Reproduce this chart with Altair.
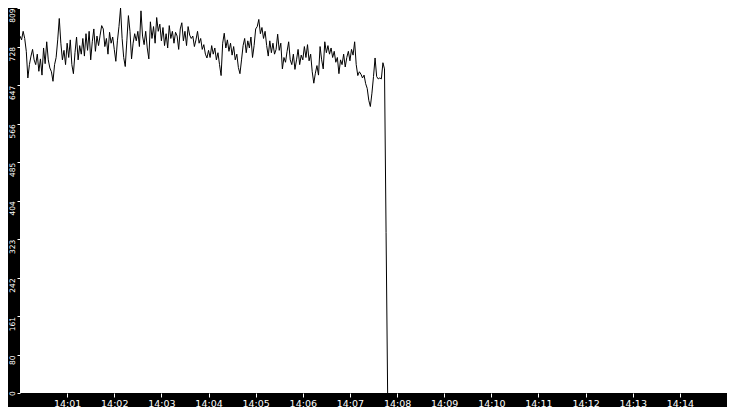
import altair as alt
import pandas as pd

# one reading every 2 seconds, starting at 14:00:00
SAMPLE_STEP = 2
readings = [
    750, 742, 760, 745, 718, 662, 690, 708, 722, 700,
    690, 712, 676, 702, 668, 725, 692, 738, 700, 683,
    675, 655, 690, 705, 742, 787, 735, 700, 720, 690,
    735, 705, 742, 690, 671, 715, 748, 700, 730, 712,
    745, 708, 755, 720, 760, 700, 738, 765, 718, 750,
    730, 752, 772, 765, 728, 745, 712, 758, 735, 748,
    722, 697, 740, 770, 809, 745, 705, 686, 740, 793,
    760, 702, 735, 755, 740, 760, 728, 803, 750, 732,
    760, 725, 702, 780, 745, 770, 735, 789, 760, 775,
    740, 768, 730, 755, 725, 772, 745, 760, 735, 758,
    750, 722, 765, 778, 740, 760, 730, 770, 752, 745,
    750, 728, 742, 760, 735, 745, 722, 732, 712, 704,
    720, 705, 730, 712, 725, 700, 715, 690, 667, 735,
    756, 725, 742, 718, 735, 710, 728, 700, 712, 684,
    671, 700, 730, 745, 715, 740, 725, 748, 705, 730,
    765, 770, 785, 755, 768, 745, 760, 730, 708, 740,
    715, 735, 712, 722, 754, 720, 735, 681, 705, 695,
    718, 738, 700, 690, 712, 680, 700, 722, 690, 710,
    700, 728, 705, 732, 698, 712, 675, 651, 672, 688,
    668, 728, 700, 681, 738, 715, 730, 712, 725, 705,
    718, 695, 705, 671, 700, 690, 712, 685, 705, 718,
    698, 722, 710, 738, 690, 667, 675, 670, 662, 668,
    650, 640, 615, 602, 630, 665, 704, 665, 660, 662,
    660, 694, 681, 337, 0,
]

y_ticks = [0, 80, 161, 242, 323, 404, 485, 566, 647, 728, 809]
x_tick_labels = ["14:01", "14:02", "14:03", "14:04", "14:05", "14:06", "14:07",
                 "14:08", "14:09", "14:10", "14:11", "14:12", "14:13", "14:14"]

df = pd.DataFrame({
    "sec": [SAMPLE_STEP * i for i in range(len(readings))],
    "value": readings,
})

label_list = "[" + ",".join(f"'{s}'" for s in x_tick_labels) + "]"

chart = (
    alt.Chart(df)
    .mark_line(color="black", strokeWidth=1)
    .encode(
        x=alt.X(
            "sec:Q",
            scale=alt.Scale(domain=[0, 900], nice=False),
            axis=alt.Axis(
                values=[60 * (k + 1) for k in range(len(x_tick_labels))],
                labelExpr=f"{label_list}[round(datum.value / 60) - 1]",
                title=None,
                grid=False,
                domain=False,
                tickColor="white",
                tickSize=4,
                labelColor="white",
                labelFont="DejaVu Sans",
                labelFontSize=9.5,
                labelPadding=1,
                labelBaseline="top",
            ),
        ),
        y=alt.Y(
            "value:Q",
            scale=alt.Scale(domain=[0, 809], nice=False),
            axis=alt.Axis(
                values=y_ticks,
                title=None,
                grid=False,
                domain=False,
                tickColor="white",
                tickSize=3,
                labelColor="white",
                labelFont="DejaVu Sans",
                labelFontSize=7.5,
                labelAngle=270,
                labelAlign={"condition": {"test": "datum.value == 0", "value": "center"}, "value": "right"},
                labelBaseline="bottom",
                labelPadding=1,
            ),
        ),
    )
    .properties(
        width=707,
        height=385,
        background="black",
        autosize=alt.AutoSizeParams(type="none"),
        padding={"left": 12, "top": 0, "right": 0, "bottom": 14},
    )
    .configure_view(fill="white", stroke="white", strokeWidth=0)
)

chart.save("out.html", embed_options={"renderer": "svg", "actions": False})
